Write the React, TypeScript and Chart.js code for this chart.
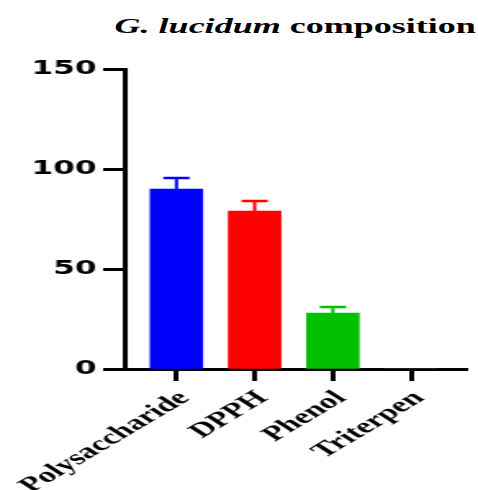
import React, { useEffect, useRef } from "react";
import { Chart, registerables } from "chart.js";

Chart.register(...registerables);

// ---- data ----
const categories = ["Polysaccharide", "DPPH", "Phenol", "Triterpen"];
const means = [90, 79, 28, 0];
const errors = [5.5, 5, 3, 0];
const barColors = ["#0000FF", "#FF0000", "#00C000", "#808080"];
const yTicks = [0, 50, 100, 150];

// ---- layout ----
const W = 292;
const H = 490;
const STRETCH = 478 / W;

export default function App() {
  const ref = useRef<HTMLCanvasElement>(null);

  useEffect(() => {
    const canvas = ref.current;
    if (!canvas) return;

    const errorBars = {
      id: "errorBars",
      afterDatasetsDraw(chart: any) {
        const ctx = chart.ctx;
        const meta = chart.getDatasetMeta(0);
        const y = chart.scales.y;
        meta.data.forEach((bar: any, i: number) => {
          const e = errors[i];
          if (!e) return;
          const yTop = y.getPixelForValue(means[i] + e);
          const yBase = y.getPixelForValue(means[i]);
          const half = bar.width / 4;
          ctx.save();
          ctx.strokeStyle = barColors[i];
          ctx.lineWidth = 2;
          ctx.beginPath();
          ctx.moveTo(bar.x, yBase);
          ctx.lineTo(bar.x, yTop);
          ctx.stroke();
          ctx.lineWidth = 2.5;
          ctx.beginPath();
          ctx.moveTo(bar.x - half, yTop);
          ctx.lineTo(bar.x + half, yTop);
          ctx.stroke();
          ctx.restore();
        });
      },
    };

    const chart = new Chart(canvas, {
      type: "bar",
      data: {
        datasets: [
          {
            data: categories.map((_, i) => ({ x: i, y: means[i] })),
            backgroundColor: barColors,
            borderWidth: 0,
            barThickness: 32,
          },
        ],
      },
      options: {
        animation: false,
        responsive: false,
        devicePixelRatio: 1,
        layout: { padding: { top: 69, right: 6.7, left: 0, bottom: 0 } },
        plugins: {
          legend: { display: false },
          tooltip: { enabled: false },
          title: { display: false },
        },
        scales: {
          x: {
            type: "linear",
            min: -0.665,
            max: 3.715,
            offset: false,
            z: 1,
            afterBuildTicks: (s: any) => {
              s.ticks = categories.map((_, i) => ({ value: i }));
            },
            afterFit: (s: any) => {
              s.height = 121;
              s.paddingLeft = 0;
              s.paddingRight = 0;
            },
            grid: {
              offset: false,
              drawOnChartArea: false,
              drawTicks: true,
              tickLength: 12,
              tickWidth: 3,
              tickColor: "#000",
            },
            border: { display: true, color: "#000", width: 3 },
            ticks: {
              autoSkip: false,
              minRotation: 44,
              maxRotation: 44,
              padding: 5,
              labelOffset: 5,
              color: "#000",
              font: { family: "Liberation Serif", weight: "bold", size: 21 },
              callback: (v: any) => categories[v] ?? "",
            },
          },
          y: {
            min: 0,
            max: 150,
            afterBuildTicks: (s: any) => {
              s.ticks = yTicks.map((v) => ({ value: v }));
            },
            afterFit: (s: any) => {
              s.width = 76;
              s.paddingTop = 0;
              s.paddingBottom = 0;
            },
            grid: {
              drawOnChartArea: false,
              drawTicks: true,
              tickLength: 13,
              tickWidth: 3,
              tickColor: "#000",
            },
            border: { display: true, color: "#000", width: 3 },
            ticks: {
              padding: 4,
              color: "#000",
              font: { family: "DejaVu Sans", weight: "bold", size: 19 },
            },
          },
        },
      },
      plugins: [errorBars],
    } as any);

    return () => chart.destroy();
  }, []);

  return (
    <div
      style={{
        position: "fixed",
        left: 0,
        top: 0,
        width: W,
        height: H,
        transform: `scaleX(${STRETCH})`,
        transformOrigin: "0 0",
        background: "#fff",
      }}
    >
      <div
        style={{
          position: "absolute",
          left: 70,
          top: 15,
          fontFamily: "'Liberation Serif', serif",
          fontWeight: "bold",
          fontSize: 22,
          lineHeight: "22px",
          whiteSpace: "nowrap",
          color: "#000",
        }}
      >
        <i>G. lucidum</i> composition
      </div>
      <canvas
        ref={ref}
        width={W}
        height={H}
        style={{ position: "absolute", left: 0, top: 0 }}
      />
    </div>
  );
}
